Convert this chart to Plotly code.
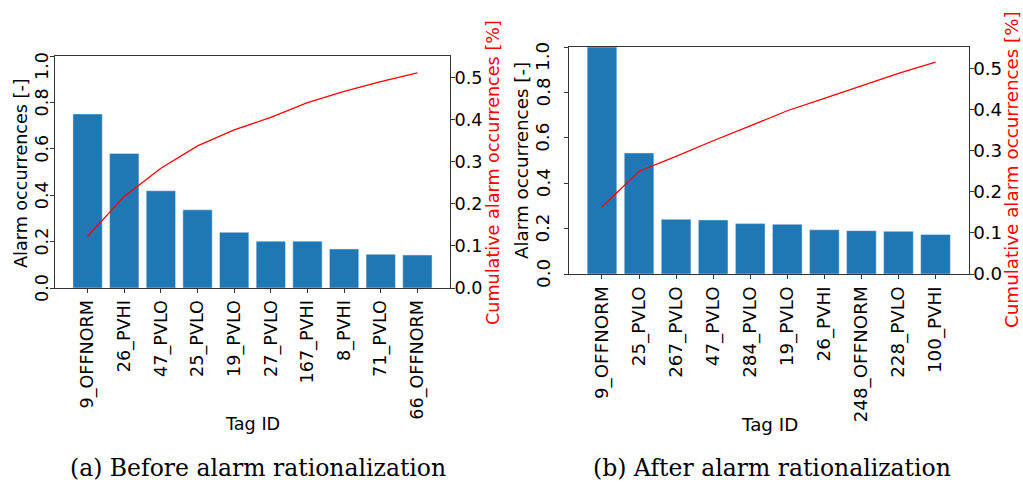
import plotly.graph_objects as go

# Panel (a): before alarm rationalization
tags_before = ["9_OFFNORM", "26_PVHI", "47_PVLO", "25_PVLO", "19_PVLO",
               "27_PVLO", "167_PVHI", "8_PVHI", "71_PVLO", "66_OFFNORM"]
occ_before = [0.750, 0.580, 0.419, 0.337, 0.240, 0.202, 0.202, 0.168, 0.145, 0.142]
cum_before = [0.123, 0.218, 0.285, 0.338, 0.376, 0.406, 0.441, 0.468, 0.491, 0.512]

# Panel (b): after alarm rationalization
tags_after = ["9_OFFNORM", "25_PVLO", "267_PVLO", "47_PVLO", "284_PVLO",
              "19_PVLO", "26_PVHI", "248_OFFNORM", "228_PVLO", "100_PVHI"]
occ_after = [1.000, 0.533, 0.241, 0.238, 0.222, 0.219, 0.195, 0.191, 0.188, 0.174]
cum_after = [0.163, 0.250, 0.286, 0.324, 0.360, 0.397, 0.427, 0.458, 0.488, 0.515]

left_ticks = [0.0, 0.2, 0.4, 0.6, 0.8, 1.0]
right_ticks = [0.0, 0.1, 0.2, 0.3, 0.4, 0.5]

W, H = 1023, 485
BLUE = "#1f77b4"
RED = "#ff0000"
AX = "#333333"
FONT = "DejaVu Sans"
SERIF = "DejaVu Serif"


def px(x):
    return x / W


def py(y):
    return 1 - y / H


fig = go.Figure()

fig.add_trace(go.Bar(x=tags_before, y=occ_before, marker_color=BLUE,
                     xaxis="x", yaxis="y", showlegend=False))
fig.add_trace(go.Scatter(x=tags_before, y=cum_before, mode="lines",
                         line=dict(color=RED, width=1.3),
                         xaxis="x", yaxis="y2", showlegend=False))
fig.add_trace(go.Bar(x=tags_after, y=occ_after, marker_color=BLUE,
                     xaxis="x2", yaxis="y3", showlegend=False))
fig.add_trace(go.Scatter(x=tags_after, y=cum_after, mode="lines",
                         line=dict(color=RED, width=1.3),
                         xaxis="x2", yaxis="y4", showlegend=False))


def xax(domain, anchor, size):
    return dict(domain=domain, anchor=anchor, type="category", automargin=False,
                range=[-0.89, 9.89], tickangle=-90,
                ticks="outside", ticklen=4, tickcolor=AX,
                showline=True, linecolor=AX, linewidth=1, mirror=True,
                showgrid=False, zeroline=False,
                tickfont=dict(family=FONT, size=size, color="black"))


# Left axes: ticks only; the rotated tick labels are placed as annotations below
def yleft(domain, anchor):
    return dict(domain=domain, anchor=anchor, range=[0, 1.0], automargin=False,
                tickvals=left_ticks, showticklabels=False,
                ticks="outside", ticklen=4, tickcolor=AX,
                showline=True, linecolor=AX, linewidth=1,
                showgrid=False, zeroline=False)


def yright(overlay, anchor, size):
    return dict(overlaying=overlay, anchor=anchor, side="right", automargin=False,
                range=[0, 0.552], tickvals=right_ticks, tickformat=".1f",
                ticks="outside", ticklen=4, tickcolor=AX,
                ticklabelstandoff=-4, ticklabeloverflow="allow",
                showline=True, linecolor=AX, linewidth=1,
                showgrid=False, zeroline=False,
                tickfont=dict(family=FONT, size=size, color="black"))


dom_xa = [px(55), px(450)]
dom_ya = [py(288), py(56)]
dom_xb = [px(569), px(968.5)]
dom_yb = [py(274), py(47)]

SA, SB = 17.6, 18.3

annotations = [
    dict(text="Alarm occurrences [-]", x=px(21), y=py(173), textangle=-90,
         font=dict(family=FONT, size=SA, color="black")),
    dict(text="Cumulative alarm occurrences [%]", x=px(493), y=py(173), textangle=-90,
         font=dict(family=FONT, size=SA, color=RED)),
    dict(text="Tag ID", x=px(252.5), y=py(424),
         font=dict(family=FONT, size=SA, color="black")),
    dict(text="Alarm occurrences [-]", x=px(522), y=py(161), textangle=-90,
         font=dict(family=FONT, size=SB, color="black")),
    dict(text="Cumulative alarm occurrences [%]", x=px(1011), y=py(170), textangle=-90,
         font=dict(family=FONT, size=SB, color=RED)),
    dict(text="Tag ID", x=px(769), y=py(424),
         font=dict(family=FONT, size=SB, color="black")),
    dict(text="(a) Before alarm rationalization", x=px(258), y=py(468),
         font=dict(family=SERIF, size=23.5, color="black")),
    dict(text="(b) After alarm rationalization", x=px(772), y=py(468),
         font=dict(family=SERIF, size=23.5, color="black")),
]
for a in annotations:
    a.update(xref="paper", yref="paper")

# rotated left-axis tick labels, positioned on the axis scale
for yref, xc, size in (("y", 42, SA), ("y3", 543, SB)):
    for v in left_ticks:
        annotations.append(dict(
            text=f"{v:.1f}", xref="paper", yref=yref, x=px(xc), y=v,
            textangle=-90, yshift=-10 if v == max(left_ticks) else 0,
            font=dict(family=FONT, size=size, color="black")))

for a in annotations:
    a.update(showarrow=False, xanchor="center", yanchor="middle")

fig.update_layout(
    width=W, height=H,
    margin=dict(l=0, r=0, t=0, b=0, autoexpand=False),
    paper_bgcolor="white", plot_bgcolor="white",
    bargap=0.2,
    xaxis=xax(dom_xa, "y", SA),
    yaxis=yleft(dom_ya, "x"),
    yaxis2=yright("y", "x", SA),
    xaxis2=xax(dom_xb, "y3", SB),
    yaxis3=yleft(dom_yb, "x2"),
    yaxis4=yright("y3", "x2", SB),
    annotations=annotations,
)

fig.write_html("out.html")
